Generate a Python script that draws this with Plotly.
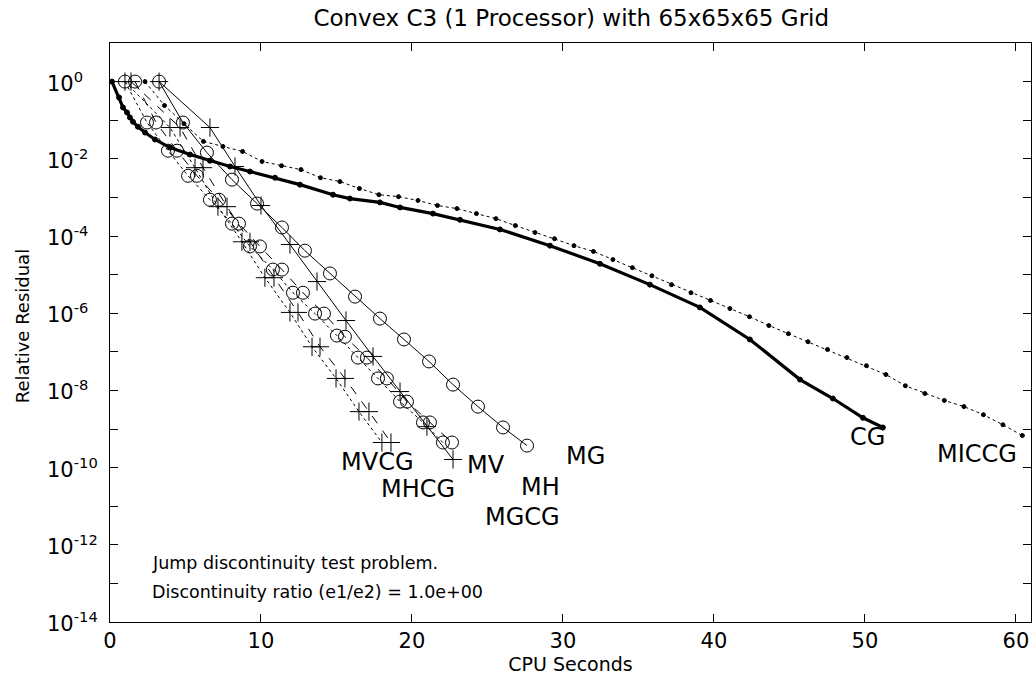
import plotly.graph_objects as go

# ---------------- data (CPU seconds, log10 of relative residual) ----------------
mg_t = [3.25, 4.83, 6.42, 8.08, 9.74, 11.39, 12.91, 14.57, 16.23, 17.88, 19.47, 21.13, 22.72, 24.37, 26.03, 27.62]
mg_lr = [0, -1.06, -1.84, -2.54, -3.16, -3.78, -4.38, -4.97, -5.57, -6.14, -6.68, -7.25, -7.85, -8.42, -8.96, -9.43]

mh_t = [3.25, 6.62, 8.28, 10.0, 11.92, 13.71, 15.63, 17.42, 19.21, 20.99, 22.72]
mh_lr = [0, -1.19, -2.20, -3.21, -4.22, -5.18, -6.19, -7.12, -8.03, -8.94, -9.79]

mgcg_t = [0.99, 2.45, 3.84, 5.17, 6.62, 8.08, 9.27, 10.79, 12.12, 13.58, 15.03, 16.42, 17.75, 19.21, 20.73, 22.05]
mgcg_lr = [0, -1.06, -1.79, -2.44, -3.06, -3.68, -4.27, -4.87, -5.47, -6.01, -6.58, -7.15, -7.69, -8.29, -8.83, -9.35]

mv_t = [1.66, 3.05, 4.44, 5.76, 7.22, 8.54, 9.93, 11.39, 12.78, 14.17, 15.56, 17.02, 18.34, 19.67, 21.19, 22.65]
mv_lr = [0, -1.06, -1.79, -2.44, -3.06, -3.68, -4.27, -4.87, -5.47, -6.01, -6.61, -7.15, -7.69, -8.29, -8.83, -9.35]

mvcg_t = [0.99, 3.97, 5.63, 7.15, 8.74, 10.26, 11.92, 13.38, 14.97, 16.49, 18.01]
mvcg_lr = [0, -1.19, -2.23, -3.24, -4.15, -5.08, -5.98, -6.87, -7.69, -8.55, -9.35]

mhcg_t = [1.39, 4.64, 6.16, 7.75, 9.27, 10.86, 12.45, 13.91, 15.56, 17.15, 18.61]
mhcg_lr = [0, -1.19, -2.23, -3.24, -4.15, -5.08, -5.98, -6.87, -7.69, -8.55, -9.35]

cg_t = [0.13, 0.60, 0.86, 1.13, 1.32, 1.52, 1.85, 2.32, 2.98, 3.97, 5.30, 6.62, 7.95, 9.27,
        10.93, 12.58, 14.77, 15.89, 17.88, 19.21, 21.39, 23.18, 25.83, 29.14, 32.45, 35.76,
        39.07, 42.38, 45.70, 47.88, 49.87, 51.19]
cg_lr = [0, -0.41, -0.67, -0.80, -0.93, -1.04, -1.17, -1.32, -1.50, -1.71, -1.89, -2.05, -2.20, -2.33,
         -2.49, -2.67, -2.93, -3.03, -3.13, -3.26, -3.42, -3.58, -3.83, -4.25, -4.72, -5.26,
         -5.85, -6.68, -7.72, -8.21, -8.71, -8.96]

miccg_t = [2.32, 3.61, 4.90, 6.19, 7.48, 8.78, 10.07, 11.36, 12.65, 13.94, 15.23, 16.52, 17.81, 19.11,
           20.40, 21.69, 22.98, 24.27, 25.56, 26.85, 28.15, 29.44, 30.73, 32.02, 33.31, 34.60, 35.89,
           37.19, 38.48, 39.77, 41.06, 42.35, 43.64, 44.93, 46.23, 47.52, 48.81, 50.10, 51.39, 52.68,
           53.97, 55.26, 56.56, 57.85, 59.14, 60.43]
miccg_lr = [0, -0.62, -1.09, -1.55, -1.68, -1.81, -2.07, -2.18, -2.28, -2.49, -2.59, -2.77, -2.93, -2.98,
            -3.08, -3.21, -3.29, -3.42, -3.55, -3.73, -3.91, -4.07, -4.25, -4.40, -4.61, -4.82, -5.03,
            -5.26, -5.47, -5.67, -5.88, -6.09, -6.32, -6.53, -6.74, -6.94, -7.15, -7.36, -7.59, -7.88,
            -8.08, -8.26, -8.42, -8.63, -8.89, -9.17]

curve_labels = ["MVCG", "MHCG", "MV", "MH", "MGCG", "MG", "CG", "MICCG"]
label_t = [17.7, 20.4, 24.9, 28.5, 27.3, 31.5, 50.2, 57.4]
label_lr = [-9.85, -10.55, -9.92, -10.5, -11.27, -9.7, -9.2, -9.66]

note_lines = ["Jump discontinuity test problem.", "Discontinuity ratio (e1/e2) = 1.0e+00"]
note_lr = [-12.46, -13.21]
note_t = 2.65

x_ticks = [0, 10, 20, 30, 40, 50, 60]
y_exps = list(range(-14, 2))
y_label_exps = [0, -2, -4, -6, -8, -10, -12, -14]

# ---------------- figure ----------------
def p(lr):
    return [10 ** v for v in lr]

fig = go.Figure()
FONT = "DejaVu Sans, Liberation Sans, Arial, sans-serif"

def add(t, lr, dash, symbol, size, width=1):
    fig.add_trace(go.Scatter(
        x=t, y=p(lr), mode="lines+markers",
        line=dict(color="black", width=width, dash=dash),
        marker=dict(symbol=symbol, size=size, color="black",
                    line=dict(color="black", width=1)),
        showlegend=False, hoverinfo="skip"))

add(mg_t, mg_lr, "solid", "circle-open", 13)
add(mh_t, mh_lr, "solid", "cross-thin-open", 13)
add(mgcg_t, mgcg_lr, "dot", "circle-open", 13)
add(mv_t, mv_lr, "dash", "circle-open", 13)
add(mvcg_t, mvcg_lr, "dot", "cross-thin-open", 13)
add(mhcg_t, mhcg_lr, "dash", "cross-thin-open", 13)
add(miccg_t, miccg_lr, "dot", "circle", 4)
add(cg_t, cg_lr, "solid", "circle", 5, width=3.2)

for name, t, lr in zip(curve_labels, label_t, label_lr):
    fig.add_annotation(x=t, y=lr, xref="x", yref="y", text=name, showarrow=False,
                       font=dict(family=FONT, size=24, color="black"))

for line, lr in zip(note_lines, note_lr):
    fig.add_annotation(x=note_t, y=lr, xref="x", yref="y", text=line, showarrow=False,
                       xanchor="left", font=dict(family=FONT, size=17.5, color="black"))

# y tick labels: the "10" bases share one left edge, as in the original
for e in y_label_exps:
    fig.add_annotation(x=-0.071, y=e, xref="paper", yref="y", xanchor="left", yanchor="middle",
                       text="10<sup>%d</sup>" % e, showarrow=False,
                       font=dict(family=FONT, size=21, color="black"))

fig.add_annotation(x=-0.0955, y=0.511, xref="paper", yref="paper", text="Relative Residual",
                   textangle=-90, showarrow=False, xanchor="center", yanchor="middle",
                   font=dict(family=FONT, size=18, color="black"))

fig.update_layout(
    width=1033, height=675,
    margin=dict(l=110, r=2, t=43, b=53),
    paper_bgcolor="white", plot_bgcolor="white",
    title=dict(text="Convex C3 (1 Processor) with 65x65x65 Grid", x=0.553, xanchor="center",
               y=0.973, yanchor="middle", font=dict(family=FONT, size=23, color="black")),
    xaxis=dict(range=[0, 61], tickvals=x_ticks, ticks="inside", ticklen=8, tickcolor="black",
               showline=True, linecolor="black", linewidth=1, mirror="ticks", showgrid=False,
               zeroline=False, tickfont=dict(family=FONT, size=21, color="black"),
               title=dict(text="CPU Seconds", font=dict(family=FONT, size=19, color="black"),
                          standoff=0)),
    yaxis=dict(type="log", range=[-14, 1], tickvals=[10 ** e for e in y_exps],
               showticklabels=False,
               ticks="inside", ticklen=8, tickcolor="black", showline=True, linecolor="black",
               linewidth=1, mirror="ticks", showgrid=False, zeroline=False),
)

fig.write_html("out.html")
